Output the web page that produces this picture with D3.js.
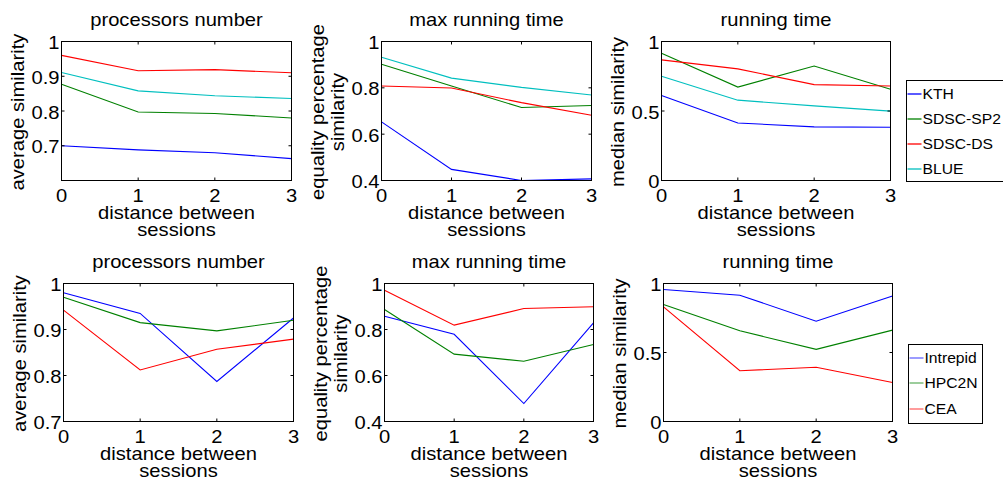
<!DOCTYPE html>
<html>
<head>
<meta charset="utf-8">
<script src="https://cdn.jsdelivr.net/npm/d3@7"></script>
<style>
  body { margin: 0; background: #fff; }
  svg { display: block; }
  text { font-family: "Liberation Sans", Arial, sans-serif; fill: #000; }
</style>
</head>
<body>
<div id="chart"></div>
<script>
// x values: distance between sessions
var sessions = [0, 1, 2, 3]

// top row series
var topNames = ["KTH", "SDSC-SP2", "SDSC-DS", "BLUE"]
var topColors = ["#0000ff", "#008000", "#ff0000", "#00bfbf"]

// values per series, same order as topNames
var topProcessors = [
  [0.700, 0.688, 0.680, 0.663],
  [0.877, 0.797, 0.793, 0.780],
  [0.960, 0.916, 0.919, 0.910],
  [0.911, 0.858, 0.844, 0.836]
]
var topMaxRun = [
  [0.653, 0.448, 0.400, 0.407],
  [0.902, 0.808, 0.715, 0.724],
  [0.808, 0.799, 0.736, 0.682],
  [0.932, 0.842, 0.802, 0.769]
]
var topRunTime = [
  [0.612, 0.414, 0.386, 0.383],
  [0.916, 0.672, 0.824, 0.656],
  [0.868, 0.803, 0.690, 0.680],
  [0.750, 0.578, 0.537, 0.499]
]

// bottom row series
var bottomNames = ["Intrepid", "HPC2N", "CEA"]
var bottomColors = ["#0000ff", "#008000", "#ff0000"]

var bottomProcessors = [
  [0.980, 0.935, 0.787, 0.925],
  [0.970, 0.915, 0.897, 0.920],
  [0.942, 0.812, 0.857, 0.879]
]
var bottomMaxRun = [
  [0.858, 0.779, 0.478, 0.829],
  [0.887, 0.693, 0.662, 0.735],
  [0.971, 0.819, 0.891, 0.899]
]
var bottomRunTime = [
  [0.957, 0.915, 0.727, 0.910],
  [0.848, 0.657, 0.523, 0.662],
  [0.831, 0.368, 0.393, 0.282]
]

var width = 1003, height = 483
var fs = 18      // font size
var sx = 1.12    // glyphs in the reference are a bit wide

var svg = d3.select("#chart").append("svg")
    .attr("width", width)
    .attr("height", height)

// text helper, stretches glyphs horizontally
function label(g, x, y, s, anchor, size, rot) {
  return g.append("text")
    .attr("transform", `translate(${x},${y}) rotate(${rot || 0}) scale(${sx},1)`)
    .attr("text-anchor", anchor)
    .style("font-size", (size || fs) + "px")
    .text(s)
}

function fmt(d) {
  if (d === 0 || d === 1) return String(d)
  return d3.format(".1f")(d)
}

// one panel of the grid
function panel(box, title, ylab, yDomain, yTicks, data, colors) {
  var x = d3.scaleLinear().domain([0, 3]).range([box.x0, box.x1])
  var y = d3.scaleLinear().domain(yDomain).range([box.y1, box.y0])
  var g = svg.append("g")

  // lines
  var line = d3.line()
      .x(function(d, i) { return x(sessions[i]) })
      .y(function(d) { return y(d) })
  data.forEach(function(vals, k) {
    g.append("path")
      .attr("d", line(vals))
      .attr("fill", "none")
      .attr("stroke", colors[k])
      .attr("stroke-width", 1.1)
  })

  // inward ticks on all sides (matlab style)
  var tl = 3
  sessions.forEach(function(t) {
    g.append("line").attr("x1", x(t)).attr("x2", x(t))
      .attr("y1", box.y1).attr("y2", box.y1 - tl).attr("stroke", "#000")
    g.append("line").attr("x1", x(t)).attr("x2", x(t))
      .attr("y1", box.y0).attr("y2", box.y0 + tl).attr("stroke", "#000")
    label(g, x(t), box.y1 + 21.5, String(t), "middle")
  })
  yTicks.forEach(function(t) {
    g.append("line").attr("x1", box.x0).attr("x2", box.x0 + tl)
      .attr("y1", y(t)).attr("y2", y(t)).attr("stroke", "#000")
    g.append("line").attr("x1", box.x1).attr("x2", box.x1 - tl)
      .attr("y1", y(t)).attr("y2", y(t)).attr("stroke", "#000")
    label(g, box.x0 - 2, y(t) + 7.5, fmt(t), "end")
  })

  // frame
  g.append("rect")
    .attr("x", box.x0).attr("y", box.y0)
    .attr("width", box.x1 - box.x0).attr("height", box.y1 - box.y0)
    .attr("fill", "none").attr("stroke", "#000").attr("stroke-width", 1)

  var cx = (box.x0 + box.x1) / 2
  var cy = (box.y0 + box.y1) / 2
  label(g, cx, box.y0 - 15.5, title, "middle")
  label(g, cx, box.y1 + 38.5, "distance between", "middle")
  label(g, cx, box.y1 + 55.5, "sessions", "middle")

  // y label, may have two lines
  ylab.forEach(function(s, i) {
    var bx = box.x0 - 37.5 - (ylab.length - 1 - i) * 20.5
    label(g, bx, cy + 1, s, "middle", fs, -90)
  })
}

function legend(box, names, colors, ys, lineOpacity) {
  var g = svg.append("g")
  g.append("rect")
    .attr("x", box.x0).attr("y", box.y0)
    .attr("width", box.x1 - box.x0).attr("height", box.y1 - box.y0)
    .attr("fill", "#fff").attr("stroke", "#000")
  names.forEach(function(n, i) {
    g.append("line")
      .attr("x1", box.x0 + 1).attr("x2", box.x0 + 15)
      .attr("y1", ys[i]).attr("y2", ys[i])
      .attr("stroke", colors[i]).attr("stroke-width", 1.3)
      .attr("stroke-opacity", lineOpacity)
    label(g, box.x0 + 16, ys[i] + 5, n, "start", 14)
  })
}

var yl1 = ["average similarity"]
var yl2 = ["equality percentage", "similarity"]
var yl3 = ["median similarity"]

// top row
panel({x0: 61.5, x1: 291.5, y0: 41.5, y1: 180.5}, "processors number", yl1,
      [0.6, 1], [0.7, 0.8, 0.9, 1], topProcessors, topColors)
panel({x0: 381.5, x1: 591.5, y0: 41.5, y1: 180.5}, "max running time", yl2,
      [0.4, 1], [0.4, 0.6, 0.8, 1], topMaxRun, topColors)
panel({x0: 661.5, x1: 890.5, y0: 41.5, y1: 180.5}, "running time", yl3,
      [0, 1], [0, 0.5, 1], topRunTime, topColors)

// bottom row
panel({x0: 63.5, x1: 293.5, y0: 283.5, y1: 421.5}, "processors number", yl1,
      [0.7, 1], [0.7, 0.8, 0.9, 1], bottomProcessors, bottomColors)
panel({x0: 384.5, x1: 593.5, y0: 283.5, y1: 421.5}, "max running time", yl2,
      [0.4, 1], [0.4, 0.6, 0.8, 1], bottomMaxRun, bottomColors)
panel({x0: 663.5, x1: 892.5, y0: 283.5, y1: 421.5}, "running time", yl3,
      [0, 1], [0, 0.5, 1], bottomRunTime, bottomColors)

// legends
legend({x0: 906.5, x1: 1012, y0: 80.5, y1: 181.5}, topNames, topColors,
       [94, 119, 144, 169], 1)
legend({x0: 908.5, x1: 982.5, y0: 344.5, y1: 423.5}, bottomNames, bottomColors,
       [358, 383, 409], 0.6)
</script>
</body>
</html>
